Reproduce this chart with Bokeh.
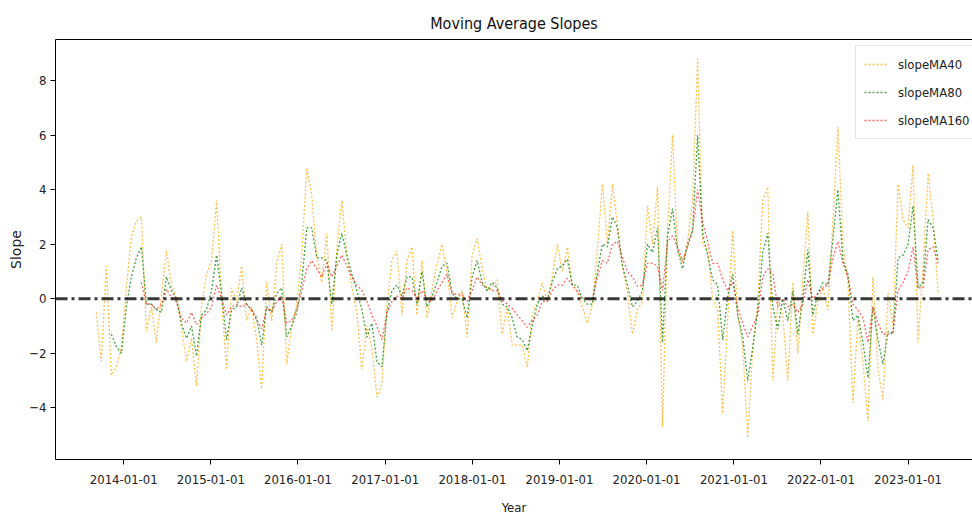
import numpy as np
import pandas as pd
from bokeh.plotting import figure
from bokeh.models import (Range1d, FixedTicker, DatetimeTickFormatter, CustomJSTickFormatter,
                          LinearAxis, Legend, LegendItem, Span, ColumnDataSource)
from bokeh.embed import file_html
from bokeh.resources import INLINE

NaN = float("nan")

# ---- data ----
start_date = "2013-09-08"
step = "21D"

slope_ma40 = [
    -0.5, -2.3, 1.2, -2.8, -2.5, -1.8, 0.4, 2.25, 2.85, 3.0,
    -1.2, -0.3, -1.6, 0.15, 1.75, 0.5, 0.0, -1.07, -2.3, -1.45,
    -3.2, -0.3, 0.9, 1.4, 3.6, 0.0, -2.6, 0.4, -0.1, 1.2,
    -0.8, -0.3, -1.5, -3.3, 0.6, -0.8, 1.3, 2.0, -2.4, -1.0,
    -0.2, 1.6, 4.8, 3.8, 1.5, 0.6, 2.4, -1.2, 1.8, 3.6,
    1.6, 0.4, -0.5, -2.6, -1.0, -1.8, -3.6, -3.1, -0.2, 1.4,
    1.75, -0.6, 1.4, 1.9, -0.6, 1.4, -0.7, 0.3, 1.3, 2.0,
    1.0, -0.7, -0.1, 0.3, -1.4, 1.6, 2.2, 1.1, 0.3, 0.4,
    0.7, -1.3, -0.3, -1.7, -1.7, -1.7, -2.5, -0.6, -0.1, 0.6,
    -0.1, 0.8, 2.0, 1.0, 1.9, 0.5, 0.3, -0.3, -0.9, -0.2,
    1.8, 4.2, 2.0, 4.2, 2.7, 1.2, 0.2, -1.3, -0.4, -0.1,
    3.4, 2.0, 4.1, -4.7, 2.5, 6.0, 1.8, 1.3, 2.1, 3.6,
    8.8, 2.0, 1.8, 0.0, -0.4, -4.2, -0.7, 2.5, -0.6, -1.7,
    -5.1, -1.8, -0.2, 3.6, 4.1, -3.0, -0.1, -0.6, -3.0, 0.6,
    -2.0, 0.7, 3.2, -1.3, -0.1, 0.4, -0.4, 2.8, 6.3, 2.0,
    0.6, -3.8, -0.7, -2.3, -4.5, 0.8, -2.6, -3.7, 0.2, -1.0,
    4.2, 2.9, 2.6, 4.9, -1.6, 1.2, 4.6, 2.9, 0.2,
]

slope_ma80 = [NaN, NaN, NaN] + [
    -1.3, -1.75, -2.0, -0.3, 0.8, 1.5, 1.9,
    -0.2, -0.2, -0.4, -0.5, 0.8, 0.3, 0.0, -0.9, -1.45, -1.0,
    -2.1, -0.6, -0.4, 0.3, 1.6, 0.2, -1.5, -0.4, -0.3, 0.4,
    -0.2, -0.4, -0.7, -1.7, -0.3, -0.5, 0.2, 0.4, -1.4, -1.0,
    -0.5, 0.6, 2.6, 2.6, 1.5, 1.5, 1.4, -0.2, 1.6, 2.4,
    1.6, 0.9, 0.3, -0.4, -1.4, -0.9, -2.3, -2.5, -0.5, 0.3,
    0.5, 0.1, 0.8, 0.8, -0.2, 1.0, -0.3, 0.1, 0.6, 1.2,
    1.3, 0.2, 0.0, 0.0, -0.7, 0.8, 1.4, 0.6, 0.3, 0.6,
    0.4, -0.2, -0.3, -0.7, -1.4, -1.5, -1.9, -1.0, -0.2, 0.1,
    0.0, 0.6, 1.1, 1.2, 1.45, 0.5, 0.5, 0.0, -0.2, -0.2,
    1.0, 2.0, 1.9, 3.0, 2.6, 1.2, 0.5, -0.3, -0.1, 0.3,
    2.0, 1.7, 2.6, -1.6, 2.3, 3.3, 1.8, 1.1, 2.0, 2.5,
    6.0, 2.4, 1.6, 0.7, 0.5, -1.5, 0.1, 0.9, -0.6, -1.4,
    -3.0, -1.8, -0.4, 1.7, 2.4, -0.3, -1.1, 0.0, -0.8, 0.3,
    -1.3, 0.0, 1.8, -0.6, 0.2, 0.6, 0.5, 2.2, 4.0, 1.4,
    0.9, -0.8, -0.6, -1.6, -2.9, -0.3, -1.5, -2.4, -1.2, -1.3,
    1.5, 1.6, 2.0, 3.4, 0.4, 0.6, 2.9, 2.6, 1.4,
]

slope_ma160 = [NaN] * 9 + [
    0.6,
    -0.2, -0.2, -0.4, -0.2, 0.35, 0.05, -0.1, -0.7, -0.9, -0.5,
    -0.95, -0.7, -0.55, -0.3, 0.5, 0.0, -0.6, -0.3, -0.2, -0.3,
    -0.2, -0.4, -0.8, -1.1, -0.35, -0.45, -0.1, 0.1, -0.9, -0.8,
    -0.4, 0.3, 1.1, 1.4, 1.1, 0.8, 1.3, 0.8, 1.2, 1.6,
    1.2, 0.8, 0.5, 0.3, -0.1, -0.6, -1.0, -1.5, -0.5, -0.1,
    0.1, 0.0, 0.4, 0.3, 0.0, 0.3, 0.0, -0.1, 0.3, 0.6,
    0.9, 0.2, 0.15, 0.15, -0.1, 0.3, 0.8, 0.5, 0.4, 0.3,
    0.3, -0.05, -0.2, -0.35, -0.6, -0.8, -1.05, -0.8, -0.6, -0.1,
    -0.1, 0.3, 0.5, 0.5, 0.75, 0.5, 0.25, 0.0, 0.0, 0.0,
    0.8, 1.4, 1.3, 2.0, 2.1, 1.5, 1.0, 0.8, 0.45, 0.5,
    1.3, 1.3, 1.2, 0.3, 2.1, 2.3, 1.9, 1.4, 1.9, 2.5,
    4.0, 2.8, 2.1, 1.3, 1.3, 0.7, 0.3, 0.6, -0.3, -0.9,
    -1.4, -1.0, -0.6, 0.8, 1.1, 0.9, -0.3, 0.0, -0.3, -0.2,
    -0.5, -0.2, 0.7, 0.0, 0.2, 0.4, 0.5, 1.5, 2.1, 1.3,
    0.8, -0.2, -0.4, -0.7, -1.6, -0.3, -0.9, -1.3, -1.3, -1.2,
    0.3, 0.6, 1.0, 1.9, 0.4, 0.4, 1.8, 1.9, 1.3,
]

series_names = ["slopeMA40", "slopeMA80", "slopeMA160"]
series_colors = ["orange", "green", "red"]
series_alphas = [0.7, 0.75, 0.6]

x_tick_labels = ["2014-01-01", "2015-01-01", "2016-01-01", "2017-01-01", "2018-01-01",
                 "2019-01-01", "2020-01-01", "2021-01-01", "2022-01-01", "2023-01-01"]
y_ticks = [-4, -2, 0, 2, 4, 6, 8]
zero_level = 0.0

# ---- build ----
dates = pd.date_range(start=start_date, periods=len(slope_ma40), freq=step)
src = ColumnDataSource(dict(
    date=dates,
    ma40=np.array(slope_ma40, dtype=float),
    ma80=np.array(slope_ma80, dtype=float),
    ma160=np.array(slope_ma160, dtype=float),
))

FONT = "DejaVu Sans Condensed"

p = figure(width=972, height=517, x_axis_type="datetime",
           output_backend="svg", toolbar_location=None,
           x_range=Range1d(pd.Timestamp("2013-03-21"), pd.Timestamp("2023-09-28")),
           y_range=Range1d(-5.89, 9.50),
           min_border_left=55, min_border_right=0, min_border_top=39, min_border_bottom=58,
           title="Moving Average Slopes")

p.title.align = "center"
p.title.offset = 4
p.title.standoff = 14
p.title.text_font = FONT
p.title.text_font_size = "16px"
p.title.text_font_style = "normal"
p.title.text_color = "#111111"

p.xgrid.visible = False
p.ygrid.visible = False
p.outline_line_color = None
p.background_fill_color = "white"
p.border_fill_color = "white"

xax = p.below[0]
yax = p.left[0]

renderers = []
for col, color, alpha in zip(["ma40", "ma80", "ma160"], series_colors, series_alphas):
    r = p.line("date", col, source=src, line_color=color, line_alpha=alpha,
               line_width=1.3, line_dash="2 2")
    renderers.append(r)

p.add_layout(Span(location=zero_level, dimension="width", line_color="black",
                  line_alpha=0.78, line_width=3, line_dash="12 4 3 4"))

# top spine
top_axis = LinearAxis(ticker=FixedTicker(ticks=[]), major_label_text_font_size="0px",
                      axis_line_color="black", major_tick_line_color=None,
                      minor_tick_line_color=None)
p.add_layout(top_axis, "above")

xticks = [pd.Timestamp(t).value / 1e6 for t in x_tick_labels]
xax.ticker = FixedTicker(ticks=xticks)
fmt = "%Y-%m-%d"
xax.formatter = DatetimeTickFormatter(
    microseconds=fmt, milliseconds=fmt, seconds=fmt, minsec=fmt, minutes=fmt,
    hourmin=fmt, hours=fmt, days=fmt, months=fmt, years=fmt)
yax.ticker = FixedTicker(ticks=y_ticks)
yax.formatter = CustomJSTickFormatter(
    code="return tick < 0 ? '\\u2212' + Math.abs(tick) : String(tick);")

for ax in [xax, yax]:
    ax.axis_line_color = "black"
    ax.major_tick_line_color = "black"
    ax.minor_tick_line_color = None
    ax.major_tick_out = 5
    ax.major_tick_in = 0
    ax.major_label_text_font = FONT
    ax.major_label_text_font_size = "13px"
    ax.major_label_text_color = "#222222"
    ax.axis_label_text_font_style = "normal"
    ax.axis_label_text_color = "#222222"

xax.major_label_standoff = 10
yax.major_label_standoff = 4
xax.axis_label = "Year"
xax.axis_label_text_font = FONT
xax.axis_label_text_font_size = "13px"
xax.axis_label_standoff = 13
yax.axis_label = "Slope"
yax.axis_label_text_font = "DejaVu Sans"
yax.axis_label_text_font_size = "14px"
yax.axis_label_standoff = 2

legend = Legend(items=[LegendItem(label=n, renderers=[r]) for n, r in zip(series_names, renderers)],
                location=(800, 320))
legend.label_text_font = FONT
legend.label_text_font_size = "13px"
legend.label_text_color = "#222222"
legend.glyph_width = 24
legend.glyph_height = 20
legend.label_height = 20
legend.spacing = 8
legend.padding = 8
legend.margin = 0
legend.label_standoff = 10
legend.border_line_color = "#cccccc"
legend.border_line_width = 1
legend.background_fill_alpha = 0.85
p.add_layout(legend)

open("out.html", "w").write(file_html(p, INLINE))
